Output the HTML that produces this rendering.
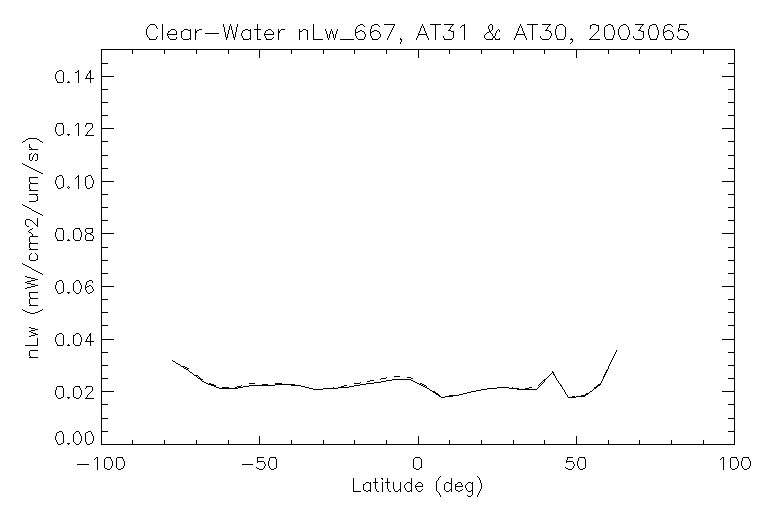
<!DOCTYPE html>
<html><head><meta charset="utf-8"><title>Clear-Water nLw_667, AT31 &amp; AT30, 2003065</title>
<style>
html,body{margin:0;padding:0;background:#fff;}
body{width:768px;height:512px;overflow:hidden;font-family:"Liberation Sans",sans-serif;}
svg{display:block;}
</style></head><body>
<svg width="768" height="512" viewBox="0 0 768 512" shape-rendering="crispEdges">
<title>Clear-Water nLw_667, AT31 &amp; AT30, 2003065</title>
<desc>Line plot. X axis: Latitude (deg), -100 to 100. Y axis: nLw (mW/cm^2/um/sr), 0.00 to 0.14. Two nearly identical curves (solid and dashed) from -77.5 to 62.5 degrees.</desc>
<rect width="768" height="512" fill="#fff"/>
<path fill="none" stroke="#000" stroke-width="1" stroke-linecap="butt" d="M150 24.5h5M162 24.5h1M223 24.5h1M230 24.5h1M237 24.5h1M257 24.5h1M313 24.5h1M360 24.5h3M374 24.5h4M384 24.5h11M422 24.5h1M430 24.5h11M444 24.5h10M464 24.5h1M490 24.5h2M520 24.5h1M527 24.5h11M542 24.5h9M559 24.5h4M592 24.5h4M608 24.5h3M623 24.5h3M635 24.5h9M652 24.5h4M667 24.5h4M679 24.5h8M149 25.5h1M155 25.5h1M162 25.5h1M223 25.5h1M230 25.5h1M237 25.5h1M257 25.5h1M313 25.5h1M358 25.5h2M363 25.5h1M372 25.5h2M378 25.5h1M394 25.5h1M422 25.5h1M435 25.5h1M452 25.5h1M462 25.5h3M489 25.5h1M492 25.5h1M520 25.5h1M532 25.5h1M549 25.5h1M557 25.5h2M563 25.5h1M590 25.5h2M596 25.5h3M606 25.5h2M611 25.5h2M621 25.5h2M626 25.5h1M642 25.5h1M650 25.5h2M656 25.5h1M665 25.5h2M671 25.5h1M679 25.5h1M148 26.5h1M156 26.5h1M162 26.5h1M223 26.5h1M229 26.5h1M231 26.5h1M237 26.5h1M257 26.5h1M313 26.5h1M357 26.5h1M364 26.5h1M371 26.5h1M379 26.5h1M393 26.5h1M421 26.5h1M423 26.5h1M435 26.5h1M451 26.5h1M461 26.5h1M464 26.5h1M488 26.5h1M492 26.5h1M519 26.5h1M521 26.5h1M532 26.5h1M548 26.5h1M556 26.5h1M564 26.5h1M590 26.5h1M598 26.5h1M605 26.5h1M612 26.5h1M620 26.5h1M627 26.5h1M641 26.5h1M649 26.5h1M656 26.5h1M664 26.5h1M672 26.5h1M679 26.5h1M147 27.5h1M156 27.5h1M162 27.5h1M224 27.5h1M229 27.5h1M231 27.5h1M236 27.5h1M257 27.5h1M313 27.5h1M356 27.5h1M371 27.5h1M393 27.5h1M421 27.5h1M423 27.5h1M435 27.5h1M450 27.5h1M460 27.5h1M464 27.5h1M488 27.5h1M492 27.5h1M519 27.5h1M521 27.5h1M532 27.5h1M547 27.5h1M556 27.5h1M565 27.5h1M590 27.5h1M598 27.5h1M604 27.5h1M613 27.5h1M619 27.5h1M628 27.5h1M640 27.5h1M649 27.5h1M657 27.5h1M664 27.5h1M679 27.5h1M147 28.5h1M157 28.5h1M162 28.5h1M224 28.5h1M229 28.5h1M231 28.5h1M236 28.5h1M257 28.5h1M313 28.5h1M356 28.5h1M371 28.5h1M392 28.5h1M420 28.5h1M424 28.5h1M435 28.5h1M450 28.5h1M464 28.5h1M488 28.5h1M492 28.5h1M518 28.5h1M522 28.5h1M532 28.5h1M547 28.5h1M556 28.5h1M565 28.5h1M590 28.5h1M598 28.5h1M604 28.5h1M613 28.5h1M619 28.5h1M628 28.5h1M640 28.5h1M649 28.5h1M657 28.5h1M664 28.5h1M678 28.5h1M146 29.5h1M162 29.5h1M171 29.5h4M184 29.5h4M190 29.5h1M195 29.5h1M199 29.5h3M224 29.5h1M229 29.5h1M231 29.5h1M236 29.5h1M245 29.5h3M250 29.5h1M254 29.5h7M268 29.5h3M278 29.5h1M281 29.5h4M299 29.5h1M303 29.5h3M313 29.5h1M325 29.5h1M331 29.5h1M337 29.5h1M355 29.5h1M370 29.5h1M392 29.5h1M420 29.5h1M424 29.5h1M435 29.5h1M449 29.5h1M464 29.5h1M489 29.5h1M492 29.5h1M498 29.5h1M518 29.5h1M522 29.5h1M532 29.5h1M546 29.5h1M555 29.5h1M565 29.5h1M598 29.5h1M604 29.5h1M613 29.5h1M618 29.5h1M628 29.5h1M639 29.5h1M648 29.5h1M657 29.5h1M663 29.5h1M678 29.5h1M680 29.5h4M146 30.5h1M162 30.5h1M170 30.5h1M175 30.5h1M183 30.5h1M188 30.5h3M195 30.5h1M197 30.5h2M224 30.5h1M228 30.5h1M232 30.5h1M236 30.5h1M243 30.5h2M248 30.5h3M257 30.5h1M266 30.5h2M271 30.5h1M278 30.5h1M280 30.5h1M299 30.5h1M302 30.5h1M306 30.5h2M313 30.5h1M325 30.5h1M331 30.5h1M337 30.5h1M355 30.5h1M360 30.5h2M370 30.5h1M374 30.5h3M391 30.5h1M420 30.5h1M424 30.5h1M435 30.5h1M448 30.5h3M464 30.5h1M489 30.5h1M491 30.5h1M497 30.5h1M499 30.5h1M518 30.5h1M522 30.5h1M532 30.5h1M545 30.5h4M555 30.5h1M565 30.5h1M598 30.5h1M604 30.5h1M614 30.5h1M618 30.5h1M629 30.5h1M638 30.5h3M648 30.5h1M658 30.5h1M663 30.5h1M667 30.5h3M678 30.5h2M684 30.5h2M146 31.5h1M162 31.5h1M168 31.5h2M176 31.5h1M181 31.5h2M190 31.5h1M195 31.5h2M224 31.5h1M228 31.5h1M232 31.5h1M236 31.5h1M242 31.5h1M250 31.5h1M257 31.5h1M265 31.5h1M272 31.5h1M278 31.5h2M299 31.5h3M307 31.5h1M313 31.5h1M326 31.5h1M330 31.5h1M332 31.5h1M336 31.5h1M355 31.5h1M358 31.5h2M362 31.5h2M370 31.5h1M372 31.5h2M377 31.5h2M391 31.5h1M419 31.5h1M425 31.5h1M435 31.5h1M451 31.5h3M464 31.5h1M489 31.5h2M496 31.5h1M499 31.5h1M517 31.5h1M523 31.5h1M532 31.5h1M549 31.5h2M555 31.5h1M565 31.5h1M597 31.5h1M604 31.5h1M614 31.5h1M618 31.5h1M629 31.5h1M641 31.5h3M648 31.5h1M658 31.5h1M663 31.5h1M665 31.5h2M670 31.5h2M678 31.5h1M686 31.5h2M146 32.5h1M162 32.5h1M168 32.5h1M176 32.5h1M181 32.5h1M190 32.5h1M195 32.5h2M225 32.5h1M228 32.5h1M232 32.5h1M235 32.5h1M242 32.5h1M250 32.5h1M257 32.5h1M265 32.5h1M273 32.5h1M278 32.5h2M299 32.5h1M307 32.5h1M313 32.5h1M326 32.5h1M330 32.5h1M332 32.5h1M336 32.5h1M355 32.5h3M364 32.5h1M370 32.5h2M379 32.5h1M390 32.5h1M419 32.5h1M425 32.5h1M435 32.5h1M453 32.5h1M464 32.5h1M487 32.5h2M490 32.5h1M496 32.5h1M517 32.5h1M523 32.5h1M532 32.5h1M550 32.5h1M555 32.5h1M565 32.5h1M596 32.5h1M604 32.5h1M614 32.5h1M618 32.5h1M629 32.5h1M643 32.5h1M648 32.5h1M658 32.5h1M663 32.5h2M672 32.5h1M687 32.5h1M146 33.5h1M162 33.5h1M167 33.5h1M176 33.5h1M181 33.5h1M190 33.5h1M195 33.5h1M205 33.5h14M225 33.5h1M228 33.5h1M232 33.5h1M235 33.5h1M241 33.5h1M250 33.5h1M257 33.5h1M264 33.5h1M273 33.5h1M278 33.5h1M299 33.5h1M307 33.5h1M313 33.5h1M326 33.5h1M330 33.5h1M332 33.5h1M336 33.5h1M355 33.5h1M364 33.5h1M370 33.5h1M379 33.5h1M390 33.5h1M418 33.5h1M426 33.5h1M435 33.5h1M453 33.5h1M464 33.5h1M486 33.5h1M491 33.5h1M495 33.5h1M516 33.5h1M524 33.5h1M532 33.5h1M551 33.5h1M555 33.5h1M565 33.5h1M595 33.5h1M604 33.5h1M614 33.5h1M618 33.5h1M629 33.5h1M643 33.5h1M648 33.5h1M658 33.5h1M663 33.5h1M672 33.5h1M688 33.5h1M146 34.5h1M162 34.5h1M167 34.5h10M181 34.5h1M190 34.5h1M195 34.5h1M225 34.5h1M227 34.5h1M233 34.5h1M235 34.5h1M241 34.5h1M250 34.5h1M257 34.5h1M264 34.5h10M278 34.5h1M299 34.5h1M307 34.5h1M313 34.5h1M327 34.5h1M329 34.5h1M333 34.5h1M335 34.5h1M355 34.5h1M365 34.5h1M370 34.5h1M380 34.5h1M389 34.5h1M418 34.5h9M435 34.5h1M453 34.5h1M464 34.5h1M485 34.5h1M492 34.5h1M495 34.5h1M516 34.5h9M532 34.5h1M551 34.5h1M555 34.5h1M565 34.5h1M594 34.5h1M604 34.5h1M614 34.5h1M618 34.5h1M629 34.5h1M643 34.5h1M648 34.5h1M658 34.5h1M663 34.5h1M673 34.5h1M688 34.5h1M147 35.5h1M162 35.5h1M167 35.5h1M181 35.5h1M190 35.5h1M195 35.5h1M225 35.5h1M227 35.5h1M233 35.5h1M235 35.5h1M241 35.5h1M250 35.5h1M257 35.5h1M264 35.5h1M278 35.5h1M299 35.5h1M307 35.5h1M313 35.5h1M327 35.5h1M329 35.5h1M333 35.5h1M335 35.5h1M355 35.5h1M365 35.5h1M370 35.5h1M380 35.5h1M389 35.5h1M418 35.5h1M426 35.5h1M435 35.5h1M453 35.5h1M464 35.5h1M484 35.5h1M492 35.5h1M495 35.5h1M516 35.5h1M524 35.5h1M532 35.5h1M551 35.5h1M556 35.5h1M565 35.5h1M593 35.5h1M604 35.5h1M613 35.5h1M619 35.5h1M628 35.5h1M643 35.5h1M649 35.5h1M657 35.5h1M663 35.5h1M673 35.5h1M688 35.5h1M147 36.5h1M157 36.5h1M162 36.5h1M168 36.5h1M181 36.5h1M190 36.5h1M195 36.5h1M225 36.5h1M227 36.5h1M233 36.5h1M235 36.5h1M242 36.5h1M250 36.5h1M257 36.5h1M265 36.5h1M278 36.5h1M299 36.5h1M307 36.5h1M313 36.5h1M327 36.5h1M329 36.5h1M333 36.5h1M335 36.5h1M356 36.5h1M365 36.5h1M371 36.5h1M380 36.5h1M388 36.5h1M417 36.5h1M427 36.5h1M435 36.5h1M443 36.5h1M453 36.5h1M464 36.5h1M484 36.5h1M493 36.5h2M515 36.5h1M525 36.5h1M532 36.5h1M540 36.5h1M550 36.5h1M556 36.5h1M565 36.5h1M592 36.5h1M604 36.5h1M613 36.5h1M619 36.5h1M628 36.5h1M633 36.5h1M643 36.5h1M649 36.5h1M657 36.5h1M664 36.5h1M673 36.5h1M677 36.5h1M687 36.5h1M148 37.5h1M156 37.5h1M162 37.5h1M168 37.5h1M176 37.5h1M181 37.5h1M190 37.5h1M195 37.5h1M226 37.5h2M233 37.5h2M242 37.5h1M250 37.5h1M257 37.5h1M265 37.5h1M273 37.5h1M278 37.5h1M299 37.5h1M307 37.5h1M313 37.5h1M327 37.5h1M329 37.5h1M333 37.5h1M335 37.5h1M356 37.5h1M364 37.5h1M371 37.5h1M379 37.5h1M388 37.5h1M417 37.5h1M427 37.5h1M435 37.5h1M443 37.5h1M453 37.5h1M464 37.5h1M484 37.5h1M493 37.5h2M515 37.5h1M525 37.5h1M532 37.5h1M540 37.5h1M550 37.5h1M556 37.5h1M564 37.5h1M591 37.5h1M605 37.5h1M613 37.5h1M620 37.5h1M627 37.5h1M633 37.5h1M643 37.5h1M649 37.5h1M657 37.5h1M664 37.5h1M672 37.5h1M677 37.5h1M687 37.5h1M149 38.5h1M156 38.5h1M162 38.5h1M169 38.5h1M176 38.5h1M182 38.5h1M189 38.5h2M195 38.5h1M226 38.5h1M234 38.5h1M243 38.5h1M249 38.5h2M257 38.5h1M266 38.5h1M272 38.5h1M278 38.5h1M299 38.5h1M307 38.5h1M313 38.5h1M328 38.5h1M334 38.5h1M357 38.5h1M364 38.5h1M372 38.5h1M378 38.5h1M387 38.5h1M400 38.5h1M416 38.5h1M428 38.5h1M435 38.5h1M444 38.5h1M452 38.5h1M464 38.5h1M485 38.5h1M492 38.5h1M495 38.5h1M499 38.5h1M514 38.5h1M526 38.5h1M532 38.5h1M541 38.5h1M549 38.5h1M557 38.5h1M564 38.5h1M571 38.5h1M590 38.5h1M605 38.5h1M612 38.5h1M620 38.5h1M627 38.5h1M634 38.5h1M642 38.5h1M650 38.5h1M656 38.5h1M665 38.5h1M672 38.5h1M678 38.5h1M686 38.5h1M149 39.5h7M162 39.5h1M170 39.5h6M183 39.5h6M190 39.5h1M195 39.5h1M226 39.5h1M234 39.5h1M243 39.5h6M250 39.5h1M257 39.5h4M266 39.5h6M278 39.5h1M299 39.5h1M307 39.5h1M313 39.5h10M328 39.5h1M334 39.5h1M340 39.5h14M358 39.5h6M372 39.5h6M387 39.5h1M400 39.5h2M416 39.5h1M428 39.5h1M435 39.5h1M444 39.5h8M464 39.5h1M486 39.5h7M495 39.5h5M514 39.5h1M526 39.5h1M532 39.5h1M542 39.5h7M557 39.5h7M570 39.5h3M589 39.5h11M606 39.5h7M621 39.5h6M635 39.5h7M650 39.5h7M665 39.5h7M679 39.5h7M401 40.5h1M572 40.5h1M401 41.5h1M572 41.5h1M400 42.5h1M571 42.5h1M400 43.5h1M570 43.5h1M101 49.5h634M101 50.5h1M132 50.5h1M164 50.5h1M196 50.5h1M228 50.5h1M259 50.5h1M291 50.5h1M323 50.5h1M354 50.5h1M386 50.5h1M418 50.5h1M449 50.5h1M481 50.5h1M513 50.5h1M544 50.5h1M576 50.5h1M608 50.5h1M639 50.5h1M671 50.5h1M703 50.5h1M734 50.5h1M101 51.5h1M132 51.5h1M164 51.5h1M196 51.5h1M228 51.5h1M259 51.5h1M291 51.5h1M323 51.5h1M354 51.5h1M386 51.5h1M418 51.5h1M449 51.5h1M481 51.5h1M513 51.5h1M544 51.5h1M576 51.5h1M608 51.5h1M639 51.5h1M671 51.5h1M703 51.5h1M734 51.5h1M101 52.5h1M132 52.5h1M164 52.5h1M196 52.5h1M228 52.5h1M259 52.5h1M291 52.5h1M323 52.5h1M354 52.5h1M386 52.5h1M418 52.5h1M449 52.5h1M481 52.5h1M513 52.5h1M544 52.5h1M576 52.5h1M608 52.5h1M639 52.5h1M671 52.5h1M703 52.5h1M734 52.5h1M101 53.5h1M132 53.5h1M164 53.5h1M196 53.5h1M228 53.5h1M259 53.5h1M291 53.5h1M323 53.5h1M354 53.5h1M386 53.5h1M418 53.5h1M449 53.5h1M481 53.5h1M513 53.5h1M544 53.5h1M576 53.5h1M608 53.5h1M639 53.5h1M671 53.5h1M703 53.5h1M734 53.5h1M101 54.5h1M259 54.5h1M418 54.5h1M576 54.5h1M734 54.5h1M101 55.5h1M259 55.5h1M418 55.5h1M576 55.5h1M734 55.5h1M101 56.5h1M259 56.5h1M418 56.5h1M576 56.5h1M734 56.5h1M101 57.5h1M259 57.5h1M418 57.5h1M576 57.5h1M734 57.5h1M101 58.5h1M734 58.5h1M101 59.5h1M734 59.5h1M101 60.5h1M734 60.5h1M101 61.5h1M734 61.5h1M101 62.5h1M734 62.5h1M101 63.5h7M728 63.5h7M101 64.5h1M734 64.5h1M101 65.5h1M734 65.5h1M101 66.5h1M734 66.5h1M101 67.5h1M734 67.5h1M101 68.5h1M734 68.5h1M101 69.5h1M734 69.5h1M59 70.5h3M78 70.5h1M90 70.5h1M101 70.5h1M734 70.5h1M57 71.5h2M62 71.5h1M77 71.5h2M89 71.5h2M101 71.5h1M734 71.5h1M56 72.5h1M63 72.5h1M75 72.5h2M78 72.5h1M89 72.5h2M101 72.5h1M734 72.5h1M56 73.5h1M63 73.5h1M78 73.5h1M88 73.5h1M90 73.5h1M101 73.5h1M734 73.5h1M55 74.5h1M63 74.5h1M78 74.5h1M87 74.5h1M90 74.5h1M101 74.5h1M734 74.5h1M55 75.5h1M63 75.5h1M78 75.5h1M87 75.5h1M90 75.5h1M101 75.5h1M734 75.5h1M55 76.5h1M63 76.5h1M78 76.5h1M86 76.5h1M90 76.5h1M101 76.5h13M722 76.5h13M55 77.5h1M63 77.5h1M78 77.5h1M86 77.5h1M90 77.5h1M101 77.5h1M734 77.5h1M55 78.5h1M63 78.5h1M78 78.5h1M85 78.5h9M101 78.5h1M734 78.5h1M56 79.5h1M63 79.5h1M78 79.5h1M90 79.5h1M101 79.5h1M734 79.5h1M56 80.5h1M63 80.5h1M78 80.5h1M90 80.5h1M101 80.5h1M734 80.5h1M57 81.5h1M63 81.5h1M68 81.5h1M78 81.5h1M90 81.5h1M101 81.5h1M734 81.5h1M57 82.5h6M67 82.5h3M78 82.5h1M90 82.5h1M101 82.5h1M734 82.5h1M101 83.5h1M734 83.5h1M101 84.5h1M734 84.5h1M101 85.5h1M734 85.5h1M101 86.5h1M734 86.5h1M101 87.5h1M734 87.5h1M101 88.5h1M734 88.5h1M101 89.5h7M728 89.5h7M101 90.5h1M734 90.5h1M101 91.5h1M734 91.5h1M101 92.5h1M734 92.5h1M101 93.5h1M734 93.5h1M101 94.5h1M734 94.5h1M101 95.5h1M734 95.5h1M101 96.5h1M734 96.5h1M101 97.5h1M734 97.5h1M101 98.5h1M734 98.5h1M101 99.5h1M734 99.5h1M101 100.5h1M734 100.5h1M101 101.5h1M734 101.5h1M101 102.5h7M728 102.5h7M101 103.5h1M734 103.5h1M101 104.5h1M734 104.5h1M101 105.5h1M734 105.5h1M101 106.5h1M734 106.5h1M101 107.5h1M734 107.5h1M101 108.5h1M734 108.5h1M101 109.5h1M734 109.5h1M101 110.5h1M734 110.5h1M101 111.5h1M734 111.5h1M101 112.5h1M734 112.5h1M101 113.5h1M734 113.5h1M101 114.5h1M734 114.5h1M101 115.5h7M728 115.5h7M101 116.5h1M734 116.5h1M101 117.5h1M734 117.5h1M101 118.5h1M734 118.5h1M101 119.5h1M734 119.5h1M101 120.5h1M734 120.5h1M101 121.5h1M734 121.5h1M101 122.5h1M734 122.5h1M57 123.5h6M77 123.5h2M86 123.5h6M101 123.5h1M734 123.5h1M56 124.5h1M62 124.5h1M76 124.5h1M78 124.5h1M86 124.5h1M92 124.5h1M101 124.5h1M734 124.5h1M56 125.5h1M63 125.5h1M75 125.5h1M78 125.5h1M85 125.5h1M92 125.5h1M101 125.5h1M734 125.5h1M56 126.5h1M63 126.5h1M78 126.5h1M85 126.5h1M92 126.5h1M101 126.5h1M734 126.5h1M55 127.5h1M63 127.5h1M78 127.5h1M92 127.5h1M101 127.5h1M734 127.5h1M55 128.5h1M63 128.5h1M78 128.5h1M91 128.5h1M101 128.5h13M722 128.5h13M55 129.5h1M63 129.5h1M78 129.5h1M90 129.5h1M101 129.5h1M734 129.5h1M55 130.5h1M63 130.5h1M78 130.5h1M89 130.5h1M101 130.5h1M734 130.5h1M55 131.5h1M63 131.5h1M78 131.5h1M88 131.5h1M101 131.5h1M734 131.5h1M56 132.5h1M63 132.5h1M78 132.5h1M87 132.5h1M101 132.5h1M734 132.5h1M56 133.5h1M63 133.5h1M78 133.5h1M87 133.5h1M101 133.5h1M734 133.5h1M57 134.5h1M61 134.5h2M67 134.5h3M78 134.5h1M86 134.5h1M101 134.5h1M734 134.5h1M58 135.5h3M68 135.5h1M78 135.5h1M85 135.5h9M101 135.5h1M734 135.5h1M101 136.5h1M734 136.5h1M101 137.5h1M734 137.5h1M28 138.5h9M101 138.5h1M734 138.5h1M26 139.5h2M37 139.5h2M101 139.5h1M734 139.5h1M25 140.5h1M39 140.5h1M101 140.5h1M734 140.5h1M23 141.5h2M40 141.5h2M101 141.5h7M728 141.5h7M22 142.5h1M42 142.5h1M101 142.5h1M734 142.5h1M101 143.5h1M734 143.5h1M29 144.5h1M101 144.5h1M734 144.5h1M29 145.5h1M101 145.5h1M734 145.5h1M29 146.5h1M101 146.5h1M734 146.5h1M29 147.5h2M101 147.5h1M734 147.5h1M31 148.5h1M101 148.5h1M734 148.5h1M29 149.5h9M101 149.5h1M734 149.5h1M101 150.5h1M734 150.5h1M101 151.5h1M734 151.5h1M101 152.5h1M734 152.5h1M31 153.5h1M35 153.5h1M101 153.5h1M734 153.5h1M29 154.5h2M34 154.5h1M36 154.5h2M101 154.5h1M734 154.5h1M29 155.5h1M33 155.5h1M37 155.5h1M101 155.5h7M728 155.5h7M29 156.5h1M33 156.5h1M37 156.5h1M101 156.5h1M734 156.5h1M29 157.5h1M32 157.5h1M37 157.5h1M101 157.5h1M734 157.5h1M29 158.5h1M32 158.5h1M37 158.5h1M101 158.5h1M734 158.5h1M29 159.5h1M32 159.5h1M37 159.5h1M101 159.5h1M734 159.5h1M30 160.5h2M35 160.5h2M101 160.5h1M734 160.5h1M101 161.5h1M734 161.5h1M101 162.5h1M734 162.5h1M22 163.5h1M101 163.5h1M734 163.5h1M23 164.5h2M101 164.5h1M734 164.5h1M25 165.5h2M101 165.5h1M734 165.5h1M27 166.5h2M101 166.5h1M734 166.5h1M29 167.5h2M101 167.5h1M734 167.5h1M31 168.5h2M101 168.5h7M728 168.5h7M33 169.5h2M101 169.5h1M734 169.5h1M35 170.5h2M101 170.5h1M734 170.5h1M37 171.5h2M101 171.5h1M734 171.5h1M39 172.5h2M101 172.5h1M734 172.5h1M41 173.5h2M101 173.5h1M734 173.5h1M101 174.5h1M734 174.5h1M59 175.5h3M78 175.5h1M88 175.5h3M101 175.5h1M734 175.5h1M57 176.5h2M62 176.5h1M77 176.5h2M86 176.5h2M91 176.5h1M101 176.5h1M734 176.5h1M29 177.5h9M56 177.5h1M62 177.5h1M76 177.5h1M78 177.5h1M85 177.5h1M91 177.5h1M101 177.5h1M734 177.5h1M29 178.5h1M56 178.5h1M63 178.5h1M75 178.5h1M78 178.5h1M85 178.5h1M92 178.5h1M101 178.5h1M734 178.5h1M29 179.5h1M56 179.5h1M63 179.5h1M78 179.5h1M85 179.5h1M92 179.5h1M101 179.5h1M734 179.5h1M29 180.5h1M55 180.5h1M63 180.5h1M78 180.5h1M85 180.5h1M93 180.5h1M101 180.5h1M734 180.5h1M29 181.5h1M55 181.5h1M63 181.5h1M78 181.5h1M85 181.5h1M93 181.5h1M101 181.5h13M722 181.5h13M30 182.5h1M55 182.5h1M63 182.5h1M78 182.5h1M85 182.5h1M93 182.5h1M101 182.5h1M734 182.5h1M30 183.5h8M55 183.5h1M63 183.5h1M78 183.5h1M85 183.5h1M93 183.5h1M101 183.5h1M734 183.5h1M29 184.5h1M56 184.5h1M63 184.5h1M78 184.5h1M85 184.5h1M92 184.5h1M101 184.5h1M734 184.5h1M29 185.5h1M56 185.5h1M63 185.5h1M78 185.5h1M85 185.5h1M92 185.5h1M101 185.5h1M734 185.5h1M29 186.5h1M57 186.5h1M63 186.5h1M68 186.5h1M78 186.5h1M86 186.5h1M92 186.5h1M101 186.5h1M734 186.5h1M29 187.5h1M57 187.5h1M61 187.5h2M67 187.5h1M69 187.5h1M78 187.5h1M86 187.5h1M90 187.5h2M101 187.5h1M734 187.5h1M29 188.5h1M58 188.5h3M68 188.5h1M78 188.5h1M87 188.5h3M101 188.5h1M734 188.5h1M30 189.5h1M101 189.5h1M734 189.5h1M29 190.5h9M101 190.5h1M734 190.5h1M101 191.5h1M734 191.5h1M101 192.5h1M734 192.5h1M101 193.5h1M734 193.5h1M29 194.5h9M101 194.5h7M728 194.5h7M36 195.5h1M101 195.5h1M734 195.5h1M37 196.5h1M101 196.5h1M734 196.5h1M37 197.5h1M101 197.5h1M734 197.5h1M37 198.5h1M101 198.5h1M734 198.5h1M37 199.5h1M101 199.5h1M734 199.5h1M36 200.5h2M101 200.5h1M734 200.5h1M29 201.5h7M101 201.5h1M734 201.5h1M101 202.5h1M734 202.5h1M101 203.5h1M734 203.5h1M22 204.5h1M101 204.5h1M734 204.5h1M23 205.5h2M101 205.5h1M734 205.5h1M25 206.5h2M101 206.5h1M734 206.5h1M27 207.5h2M101 207.5h7M728 207.5h7M29 208.5h2M101 208.5h1M734 208.5h1M31 209.5h1M101 209.5h1M734 209.5h1M32 210.5h2M101 210.5h1M734 210.5h1M34 211.5h2M101 211.5h1M734 211.5h1M36 212.5h2M101 212.5h1M734 212.5h1M38 213.5h2M101 213.5h1M734 213.5h1M40 214.5h2M101 214.5h1M734 214.5h1M42 215.5h1M101 215.5h1M734 215.5h1M101 216.5h1M734 216.5h1M101 217.5h1M734 217.5h1M37 218.5h1M101 218.5h1M734 218.5h1M26 219.5h4M37 219.5h1M101 219.5h1M734 219.5h1M25 220.5h1M30 220.5h2M37 220.5h1M101 220.5h7M728 220.5h7M25 221.5h1M32 221.5h1M37 221.5h1M101 221.5h1M734 221.5h1M25 222.5h1M33 222.5h1M37 222.5h1M101 222.5h1M734 222.5h1M25 223.5h1M34 223.5h1M37 223.5h1M101 223.5h1M734 223.5h1M25 224.5h1M35 224.5h1M37 224.5h1M101 224.5h1M734 224.5h1M26 225.5h1M36 225.5h2M101 225.5h1M734 225.5h1M27 226.5h2M37 226.5h1M101 226.5h1M734 226.5h1M101 227.5h1M734 227.5h1M32 228.5h1M57 228.5h6M75 228.5h5M86 228.5h7M101 228.5h1M734 228.5h1M30 229.5h2M56 229.5h1M62 229.5h1M74 229.5h1M79 229.5h1M85 229.5h1M92 229.5h1M101 229.5h1M734 229.5h1M29 230.5h1M56 230.5h1M63 230.5h1M73 230.5h1M80 230.5h1M85 230.5h1M92 230.5h1M101 230.5h1M734 230.5h1M28 231.5h1M56 231.5h1M63 231.5h1M73 231.5h1M80 231.5h1M85 231.5h1M92 231.5h1M101 231.5h1M734 231.5h1M29 232.5h2M55 232.5h1M63 232.5h1M73 232.5h1M81 232.5h1M86 232.5h1M91 232.5h2M101 232.5h1M734 232.5h1M31 233.5h1M55 233.5h1M63 233.5h1M73 233.5h1M81 233.5h1M87 233.5h4M101 233.5h13M722 233.5h13M32 234.5h1M55 234.5h1M63 234.5h1M73 234.5h1M81 234.5h1M86 234.5h1M90 234.5h2M101 234.5h1M734 234.5h1M32 235.5h1M55 235.5h1M63 235.5h1M73 235.5h1M81 235.5h1M85 235.5h1M92 235.5h1M101 235.5h1M734 235.5h1M30 236.5h8M55 236.5h1M63 236.5h1M73 236.5h1M81 236.5h1M85 236.5h1M93 236.5h1M101 236.5h1M734 236.5h1M29 237.5h1M56 237.5h1M63 237.5h1M73 237.5h1M80 237.5h1M85 237.5h1M93 237.5h1M101 237.5h1M734 237.5h1M29 238.5h1M56 238.5h1M63 238.5h1M73 238.5h1M80 238.5h1M85 238.5h1M93 238.5h1M101 238.5h1M734 238.5h1M29 239.5h1M57 239.5h1M63 239.5h1M68 239.5h1M74 239.5h1M80 239.5h1M85 239.5h1M92 239.5h1M101 239.5h1M734 239.5h1M29 240.5h1M57 240.5h6M67 240.5h3M75 240.5h5M86 240.5h7M101 240.5h1M734 240.5h1M29 241.5h1M101 241.5h1M734 241.5h1M30 242.5h1M101 242.5h1M734 242.5h1M29 243.5h9M101 243.5h1M734 243.5h1M29 244.5h1M101 244.5h1M734 244.5h1M29 245.5h1M101 245.5h1M734 245.5h1M29 246.5h1M101 246.5h1M734 246.5h1M29 247.5h1M101 247.5h7M728 247.5h7M30 248.5h1M101 248.5h1M734 248.5h1M29 249.5h9M101 249.5h1M734 249.5h1M101 250.5h1M734 250.5h1M101 251.5h1M734 251.5h1M101 252.5h1M734 252.5h1M31 253.5h1M35 253.5h1M101 253.5h1M734 253.5h1M30 254.5h1M36 254.5h1M101 254.5h1M734 254.5h1M29 255.5h1M37 255.5h1M101 255.5h1M734 255.5h1M29 256.5h1M37 256.5h1M101 256.5h1M734 256.5h1M29 257.5h1M37 257.5h1M101 257.5h1M734 257.5h1M29 258.5h1M37 258.5h1M101 258.5h1M734 258.5h1M29 259.5h1M36 259.5h2M101 259.5h1M734 259.5h1M30 260.5h6M101 260.5h7M728 260.5h7M101 261.5h1M734 261.5h1M101 262.5h1M734 262.5h1M22 263.5h1M101 263.5h1M734 263.5h1M23 264.5h2M101 264.5h1M734 264.5h1M25 265.5h2M101 265.5h1M734 265.5h1M27 266.5h2M101 266.5h1M734 266.5h1M29 267.5h2M101 267.5h1M734 267.5h1M31 268.5h1M101 268.5h1M734 268.5h1M32 269.5h2M101 269.5h1M734 269.5h1M34 270.5h2M101 270.5h1M734 270.5h1M36 271.5h2M101 271.5h1M734 271.5h1M38 272.5h2M101 272.5h1M734 272.5h1M40 273.5h2M101 273.5h7M728 273.5h7M42 274.5h1M101 274.5h1M734 274.5h1M101 275.5h1M734 275.5h1M25 276.5h2M101 276.5h1M734 276.5h1M27 277.5h4M101 277.5h1M734 277.5h1M31 278.5h4M101 278.5h1M734 278.5h1M35 279.5h3M101 279.5h1M734 279.5h1M31 280.5h4M59 280.5h3M76 280.5h3M89 280.5h3M101 280.5h1M734 280.5h1M27 281.5h4M57 281.5h2M62 281.5h1M75 281.5h1M79 281.5h1M87 281.5h2M92 281.5h1M101 281.5h1M734 281.5h1M25 282.5h2M56 282.5h1M62 282.5h1M74 282.5h1M79 282.5h1M86 282.5h1M92 282.5h1M101 282.5h1M734 282.5h1M27 283.5h4M56 283.5h1M63 283.5h1M73 283.5h1M80 283.5h1M86 283.5h1M101 283.5h1M734 283.5h1M31 284.5h4M56 284.5h1M63 284.5h1M73 284.5h1M80 284.5h1M86 284.5h1M101 284.5h1M734 284.5h1M35 285.5h3M55 285.5h1M63 285.5h1M73 285.5h1M81 285.5h1M85 285.5h1M89 285.5h2M101 285.5h1M734 285.5h1M31 286.5h4M55 286.5h1M63 286.5h1M73 286.5h1M81 286.5h1M85 286.5h1M87 286.5h2M91 286.5h1M101 286.5h13M722 286.5h13M27 287.5h4M55 287.5h1M63 287.5h1M73 287.5h1M81 287.5h1M85 287.5h2M92 287.5h1M101 287.5h1M734 287.5h1M25 288.5h2M55 288.5h1M63 288.5h1M73 288.5h1M81 288.5h1M85 288.5h1M92 288.5h1M101 288.5h1M734 288.5h1M56 289.5h1M63 289.5h1M73 289.5h1M80 289.5h1M85 289.5h1M93 289.5h1M101 289.5h1M734 289.5h1M56 290.5h1M63 290.5h1M73 290.5h1M80 290.5h1M86 290.5h1M93 290.5h1M101 290.5h1M734 290.5h1M57 291.5h1M63 291.5h1M74 291.5h1M80 291.5h1M86 291.5h1M92 291.5h1M101 291.5h1M734 291.5h1M29 292.5h9M57 292.5h1M61 292.5h2M67 292.5h3M75 292.5h1M79 292.5h1M87 292.5h1M90 292.5h2M101 292.5h1M734 292.5h1M29 293.5h1M58 293.5h3M68 293.5h1M76 293.5h3M88 293.5h2M101 293.5h1M734 293.5h1M29 294.5h1M101 294.5h1M734 294.5h1M29 295.5h1M101 295.5h1M734 295.5h1M29 296.5h1M101 296.5h1M734 296.5h1M30 297.5h1M101 297.5h1M734 297.5h1M30 298.5h8M101 298.5h1M734 298.5h1M29 299.5h1M101 299.5h7M728 299.5h7M29 300.5h1M101 300.5h1M734 300.5h1M29 301.5h1M101 301.5h1M734 301.5h1M29 302.5h1M101 302.5h1M734 302.5h1M29 303.5h1M101 303.5h1M734 303.5h1M30 304.5h1M101 304.5h1M734 304.5h1M29 305.5h9M101 305.5h1M734 305.5h1M101 306.5h1M734 306.5h1M101 307.5h1M734 307.5h1M101 308.5h1M734 308.5h1M22 309.5h1M42 309.5h1M101 309.5h1M734 309.5h1M23 310.5h2M40 310.5h2M101 310.5h1M734 310.5h1M25 311.5h2M38 311.5h2M101 311.5h1M734 311.5h1M27 312.5h3M35 312.5h3M101 312.5h7M728 312.5h7M30 313.5h5M101 313.5h1M734 313.5h1M101 314.5h1M734 314.5h1M101 315.5h1M734 315.5h1M101 316.5h1M734 316.5h1M101 317.5h1M734 317.5h1M101 318.5h1M734 318.5h1M101 319.5h1M734 319.5h1M101 320.5h1M734 320.5h1M101 321.5h1M734 321.5h1M101 322.5h1M734 322.5h1M101 323.5h1M734 323.5h1M101 324.5h1M734 324.5h1M101 325.5h7M728 325.5h7M101 326.5h1M734 326.5h1M29 327.5h2M101 327.5h1M734 327.5h1M31 328.5h4M101 328.5h1M734 328.5h1M35 329.5h3M101 329.5h1M734 329.5h1M31 330.5h4M101 330.5h1M734 330.5h1M29 331.5h2M101 331.5h1M734 331.5h1M31 332.5h2M101 332.5h1M734 332.5h1M33 333.5h3M59 333.5h3M76 333.5h3M90 333.5h1M101 333.5h1M734 333.5h1M35 334.5h3M57 334.5h2M62 334.5h1M75 334.5h1M79 334.5h1M89 334.5h2M101 334.5h1M734 334.5h1M31 335.5h4M56 335.5h1M63 335.5h1M73 335.5h2M80 335.5h1M89 335.5h2M101 335.5h1M734 335.5h1M29 336.5h2M56 336.5h1M63 336.5h1M73 336.5h1M80 336.5h1M88 336.5h1M90 336.5h1M101 336.5h1M734 336.5h1M55 337.5h1M63 337.5h1M73 337.5h1M81 337.5h1M87 337.5h1M90 337.5h1M101 337.5h1M734 337.5h1M37 338.5h1M55 338.5h1M63 338.5h1M73 338.5h1M81 338.5h1M87 338.5h1M90 338.5h1M101 338.5h1M734 338.5h1M37 339.5h1M55 339.5h1M63 339.5h1M73 339.5h1M81 339.5h1M86 339.5h1M90 339.5h1M101 339.5h13M722 339.5h13M37 340.5h1M55 340.5h1M63 340.5h1M73 340.5h1M81 340.5h1M86 340.5h1M90 340.5h1M101 340.5h1M734 340.5h1M37 341.5h1M55 341.5h1M63 341.5h1M73 341.5h1M81 341.5h1M85 341.5h9M101 341.5h1M734 341.5h1M37 342.5h1M56 342.5h1M63 342.5h1M73 342.5h1M80 342.5h1M90 342.5h1M101 342.5h1M734 342.5h1M37 343.5h1M56 343.5h1M63 343.5h1M73 343.5h1M80 343.5h1M90 343.5h1M101 343.5h1M734 343.5h1M37 344.5h1M57 344.5h1M63 344.5h1M68 344.5h1M74 344.5h1M80 344.5h1M90 344.5h1M101 344.5h1M734 344.5h1M25 345.5h13M57 345.5h6M67 345.5h3M75 345.5h5M90 345.5h1M101 345.5h1M734 345.5h1M101 346.5h1M734 346.5h1M101 347.5h1M734 347.5h1M101 348.5h1M734 348.5h1M101 349.5h1M734 349.5h1M30 350.5h8M101 350.5h1M616 350.5h1M734 350.5h1M29 351.5h1M101 351.5h1M616 351.5h1M734 351.5h1M29 352.5h1M101 352.5h7M615 352.5h1M728 352.5h7M29 353.5h1M101 353.5h1M615 353.5h1M734 353.5h1M29 354.5h1M101 354.5h1M614 354.5h1M734 354.5h1M29 355.5h1M101 355.5h1M614 355.5h1M734 355.5h1M30 356.5h1M101 356.5h1M613 356.5h1M734 356.5h1M29 357.5h9M101 357.5h1M613 357.5h1M734 357.5h1M101 358.5h1M612 358.5h1M734 358.5h1M101 359.5h1M612 359.5h1M734 359.5h1M101 360.5h1M172 360.5h1M611 360.5h1M734 360.5h1M101 361.5h1M173 361.5h2M611 361.5h1M734 361.5h1M101 362.5h1M175 362.5h1M610 362.5h1M734 362.5h1M101 363.5h1M176 363.5h2M610 363.5h1M734 363.5h1M101 364.5h1M178 364.5h2M609 364.5h1M734 364.5h1M101 365.5h7M180 365.5h1M609 365.5h1M728 365.5h7M101 366.5h1M181 366.5h4M608 366.5h1M734 366.5h1M101 367.5h1M183 367.5h1M185 367.5h2M608 367.5h1M734 367.5h1M101 368.5h1M184 368.5h2M187 368.5h2M608 368.5h1M734 368.5h1M101 369.5h1M186 369.5h2M607 369.5h1M734 369.5h1M101 370.5h1M188 370.5h1M606 370.5h2M734 370.5h1M101 371.5h1M189 371.5h1M552 371.5h1M606 371.5h1M734 371.5h1M101 372.5h1M190 372.5h2M552 372.5h2M605 372.5h2M734 372.5h1M101 373.5h1M192 373.5h1M551 373.5h1M553 373.5h1M605 373.5h1M734 373.5h1M101 374.5h1M193 374.5h1M550 374.5h1M553 374.5h2M604 374.5h2M734 374.5h1M101 375.5h1M194 375.5h4M549 375.5h1M554 375.5h1M604 375.5h1M734 375.5h1M101 376.5h1M196 376.5h1M198 376.5h1M394 376.5h6M548 376.5h1M555 376.5h1M603 376.5h2M734 376.5h1M101 377.5h1M197 377.5h1M199 377.5h1M386 377.5h1M407 377.5h4M547 377.5h1M555 377.5h1M603 377.5h1M734 377.5h1M101 378.5h7M198 378.5h3M381 378.5h5M411 378.5h2M546 378.5h1M556 378.5h1M603 378.5h1M728 378.5h7M101 379.5h1M200 379.5h3M380 379.5h1M392 379.5h19M544 379.5h2M556 379.5h1M602 379.5h1M734 379.5h1M101 380.5h1M201 380.5h1M370 380.5h4M386 380.5h6M411 380.5h2M543 380.5h2M557 380.5h1M602 380.5h1M734 380.5h1M101 381.5h1M202 381.5h2M367 381.5h3M381 381.5h5M413 381.5h2M542 381.5h1M544 381.5h1M558 381.5h1M601 381.5h1M734 381.5h1M101 382.5h1M204 382.5h2M360 382.5h1M374 382.5h7M415 382.5h2M541 382.5h1M543 382.5h1M558 382.5h1M601 382.5h1M734 382.5h1M101 383.5h1M206 383.5h2M209 383.5h2M249 383.5h6M275 383.5h7M354 383.5h6M366 383.5h8M417 383.5h2M420 383.5h2M540 383.5h1M542 383.5h1M559 383.5h1M600 383.5h1M734 383.5h1M101 384.5h1M208 384.5h6M262 384.5h6M275 384.5h20M360 384.5h6M419 384.5h2M422 384.5h2M539 384.5h1M541 384.5h1M560 384.5h1M598 384.5h3M734 384.5h1M101 385.5h1M211 385.5h5M241 385.5h1M249 385.5h26M291 385.5h10M344 385.5h3M354 385.5h6M421 385.5h2M424 385.5h2M538 385.5h1M540 385.5h1M560 385.5h2M597 385.5h3M734 385.5h1M57 386.5h6M75 386.5h5M86 386.5h6M101 386.5h1M214 386.5h2M237 386.5h4M243 386.5h6M301 386.5h4M341 386.5h3M349 386.5h5M423 386.5h2M426 386.5h1M539 386.5h1M561 386.5h1M596 386.5h2M734 386.5h1M56 387.5h1M62 387.5h1M74 387.5h1M79 387.5h1M86 387.5h1M92 387.5h1M101 387.5h1M216 387.5h3M222 387.5h7M235 387.5h2M238 387.5h5M305 387.5h4M333 387.5h1M338 387.5h11M425 387.5h2M497 387.5h12M512 387.5h1M529 387.5h3M538 387.5h1M562 387.5h1M594 387.5h3M734 387.5h1M56 388.5h1M63 388.5h1M73 388.5h1M80 388.5h1M85 388.5h1M92 388.5h1M101 388.5h1M219 388.5h19M309 388.5h4M323 388.5h15M427 388.5h2M487 388.5h10M509 388.5h10M525 388.5h4M537 388.5h1M562 388.5h1M594 388.5h2M734 388.5h1M56 389.5h1M63 389.5h1M73 389.5h1M80 389.5h1M92 389.5h1M101 389.5h1M313 389.5h10M429 389.5h1M481 389.5h6M517 389.5h20M563 389.5h1M593 389.5h1M734 389.5h1M55 390.5h1M63 390.5h1M73 390.5h1M81 390.5h1M92 390.5h1M101 390.5h1M430 390.5h2M476 390.5h5M564 390.5h1M592 390.5h1M734 390.5h1M55 391.5h1M63 391.5h1M73 391.5h1M81 391.5h1M91 391.5h1M101 391.5h13M432 391.5h3M471 391.5h5M564 391.5h1M590 391.5h2M722 391.5h13M55 392.5h1M63 392.5h1M73 392.5h1M81 392.5h1M90 392.5h1M101 392.5h1M433 392.5h3M467 392.5h4M565 392.5h1M589 392.5h1M734 392.5h1M55 393.5h1M63 393.5h1M73 393.5h1M81 393.5h1M89 393.5h1M101 393.5h1M435 393.5h3M463 393.5h4M565 393.5h1M586 393.5h3M734 393.5h1M55 394.5h1M63 394.5h1M73 394.5h1M81 394.5h1M88 394.5h1M101 394.5h1M436 394.5h3M459 394.5h4M566 394.5h1M585 394.5h3M734 394.5h1M56 395.5h1M63 395.5h1M73 395.5h1M80 395.5h1M87 395.5h1M101 395.5h1M438 395.5h2M449 395.5h10M567 395.5h1M581 395.5h5M734 395.5h1M56 396.5h1M63 396.5h1M73 396.5h1M80 396.5h1M87 396.5h1M101 396.5h1M439 396.5h2M445 396.5h8M567 396.5h1M572 396.5h3M576 396.5h9M734 396.5h1M57 397.5h1M61 397.5h2M67 397.5h3M74 397.5h2M79 397.5h1M86 397.5h1M101 397.5h1M441 397.5h4M568 397.5h8M734 397.5h1M58 398.5h3M68 398.5h1M76 398.5h3M85 398.5h9M101 398.5h1M734 398.5h1M101 399.5h1M734 399.5h1M101 400.5h1M734 400.5h1M101 401.5h1M734 401.5h1M101 402.5h1M734 402.5h1M101 403.5h1M734 403.5h1M101 404.5h7M728 404.5h7M101 405.5h1M734 405.5h1M101 406.5h1M734 406.5h1M101 407.5h1M734 407.5h1M101 408.5h1M734 408.5h1M101 409.5h1M734 409.5h1M101 410.5h1M734 410.5h1M101 411.5h1M734 411.5h1M101 412.5h1M734 412.5h1M101 413.5h1M734 413.5h1M101 414.5h1M734 414.5h1M101 415.5h1M734 415.5h1M101 416.5h1M734 416.5h1M101 417.5h1M734 417.5h1M101 418.5h7M728 418.5h7M101 419.5h1M734 419.5h1M101 420.5h1M734 420.5h1M101 421.5h1M734 421.5h1M101 422.5h1M734 422.5h1M101 423.5h1M734 423.5h1M101 424.5h1M734 424.5h1M101 425.5h1M734 425.5h1M101 426.5h1M734 426.5h1M101 427.5h1M734 427.5h1M101 428.5h1M734 428.5h1M101 429.5h1M734 429.5h1M101 430.5h1M734 430.5h1M59 431.5h3M76 431.5h3M88 431.5h3M101 431.5h7M728 431.5h7M57 432.5h2M62 432.5h1M75 432.5h1M79 432.5h1M86 432.5h2M91 432.5h1M101 432.5h1M734 432.5h1M56 433.5h1M62 433.5h1M74 433.5h1M79 433.5h1M85 433.5h1M91 433.5h1M101 433.5h1M734 433.5h1M56 434.5h1M63 434.5h1M73 434.5h1M80 434.5h1M85 434.5h1M92 434.5h1M101 434.5h1M734 434.5h1M56 435.5h1M63 435.5h1M73 435.5h1M80 435.5h1M85 435.5h1M92 435.5h1M101 435.5h1M734 435.5h1M55 436.5h1M63 436.5h1M73 436.5h1M81 436.5h1M85 436.5h1M93 436.5h1M101 436.5h1M259 436.5h1M418 436.5h1M576 436.5h1M734 436.5h1M55 437.5h1M63 437.5h1M73 437.5h1M81 437.5h1M85 437.5h1M93 437.5h1M101 437.5h1M259 437.5h1M418 437.5h1M576 437.5h1M734 437.5h1M55 438.5h1M63 438.5h1M73 438.5h1M81 438.5h1M85 438.5h1M93 438.5h1M101 438.5h1M259 438.5h1M418 438.5h1M576 438.5h1M734 438.5h1M55 439.5h1M63 439.5h1M73 439.5h1M81 439.5h1M85 439.5h1M93 439.5h1M101 439.5h1M259 439.5h1M418 439.5h1M576 439.5h1M734 439.5h1M56 440.5h1M63 440.5h1M73 440.5h1M81 440.5h1M85 440.5h1M93 440.5h1M101 440.5h1M132 440.5h1M164 440.5h1M196 440.5h1M228 440.5h1M259 440.5h1M291 440.5h1M323 440.5h1M354 440.5h1M386 440.5h1M418 440.5h1M449 440.5h1M481 440.5h1M513 440.5h1M544 440.5h1M576 440.5h1M608 440.5h1M639 440.5h1M671 440.5h1M703 440.5h1M734 440.5h1M56 441.5h1M63 441.5h1M73 441.5h1M80 441.5h1M85 441.5h1M92 441.5h1M101 441.5h1M132 441.5h1M164 441.5h1M196 441.5h1M228 441.5h1M259 441.5h1M291 441.5h1M323 441.5h1M354 441.5h1M386 441.5h1M418 441.5h1M449 441.5h1M481 441.5h1M513 441.5h1M544 441.5h1M576 441.5h1M608 441.5h1M639 441.5h1M671 441.5h1M703 441.5h1M734 441.5h1M57 442.5h1M63 442.5h1M74 442.5h1M80 442.5h1M86 442.5h1M92 442.5h1M101 442.5h1M132 442.5h1M164 442.5h1M196 442.5h1M228 442.5h1M259 442.5h1M291 442.5h1M323 442.5h1M354 442.5h1M386 442.5h1M418 442.5h1M449 442.5h1M481 442.5h1M513 442.5h1M544 442.5h1M576 442.5h1M608 442.5h1M639 442.5h1M671 442.5h1M703 442.5h1M734 442.5h1M57 443.5h1M61 443.5h2M67 443.5h3M75 443.5h1M79 443.5h1M86 443.5h1M90 443.5h2M101 443.5h1M132 443.5h1M164 443.5h1M196 443.5h1M228 443.5h1M259 443.5h1M291 443.5h1M323 443.5h1M354 443.5h1M386 443.5h1M418 443.5h1M449 443.5h1M481 443.5h1M513 443.5h1M544 443.5h1M576 443.5h1M608 443.5h1M639 443.5h1M671 443.5h1M703 443.5h1M734 443.5h1M58 444.5h3M68 444.5h1M76 444.5h3M87 444.5h3M101 444.5h634M96 457.5h2M106 457.5h5M117 457.5h6M257 457.5h7M270 457.5h6M415 457.5h5M567 457.5h6M579 457.5h6M722 457.5h2M731 457.5h6M743 457.5h6M95 458.5h1M97 458.5h1M105 458.5h1M110 458.5h1M116 458.5h1M122 458.5h1M257 458.5h1M269 458.5h1M275 458.5h1M414 458.5h1M420 458.5h1M567 458.5h1M578 458.5h1M584 458.5h1M721 458.5h1M723 458.5h1M730 458.5h1M736 458.5h1M742 458.5h1M748 458.5h1M94 459.5h1M97 459.5h1M104 459.5h1M111 459.5h1M116 459.5h1M123 459.5h1M257 459.5h1M269 459.5h1M276 459.5h1M413 459.5h1M421 459.5h1M567 459.5h1M578 459.5h1M585 459.5h1M720 459.5h1M723 459.5h1M730 459.5h1M737 459.5h1M742 459.5h1M749 459.5h1M97 460.5h1M104 460.5h1M111 460.5h1M116 460.5h1M123 460.5h1M257 460.5h1M269 460.5h1M276 460.5h1M413 460.5h1M421 460.5h1M566 460.5h1M578 460.5h1M585 460.5h1M723 460.5h1M730 460.5h1M737 460.5h1M742 460.5h1M749 460.5h1M97 461.5h1M104 461.5h1M112 461.5h1M116 461.5h1M124 461.5h1M257 461.5h7M268 461.5h1M276 461.5h1M413 461.5h1M421 461.5h1M566 461.5h7M577 461.5h1M585 461.5h1M723 461.5h1M730 461.5h1M738 461.5h1M741 461.5h1M750 461.5h1M97 462.5h1M104 462.5h1M112 462.5h1M116 462.5h1M124 462.5h1M257 462.5h1M264 462.5h1M268 462.5h1M276 462.5h1M413 462.5h1M421 462.5h1M566 462.5h1M573 462.5h1M577 462.5h1M585 462.5h1M723 462.5h1M730 462.5h1M738 462.5h1M741 462.5h1M750 462.5h1M97 463.5h1M104 463.5h1M112 463.5h1M116 463.5h1M124 463.5h1M264 463.5h1M268 463.5h1M276 463.5h1M413 463.5h1M421 463.5h1M573 463.5h1M577 463.5h1M585 463.5h1M723 463.5h1M730 463.5h1M738 463.5h1M741 463.5h1M750 463.5h1M77 464.5h12M97 464.5h1M104 464.5h1M112 464.5h1M116 464.5h1M124 464.5h1M242 464.5h11M265 464.5h1M268 464.5h1M276 464.5h1M413 464.5h1M421 464.5h1M574 464.5h1M577 464.5h1M585 464.5h1M723 464.5h1M730 464.5h1M738 464.5h1M741 464.5h1M750 464.5h1M97 465.5h1M104 465.5h1M112 465.5h1M116 465.5h1M124 465.5h1M265 465.5h1M268 465.5h1M276 465.5h1M413 465.5h1M421 465.5h1M574 465.5h1M577 465.5h1M585 465.5h1M723 465.5h1M730 465.5h1M738 465.5h1M741 465.5h1M750 465.5h1M97 466.5h1M104 466.5h1M111 466.5h1M116 466.5h1M123 466.5h1M264 466.5h1M269 466.5h1M276 466.5h1M413 466.5h1M421 466.5h1M573 466.5h1M578 466.5h1M585 466.5h1M723 466.5h1M730 466.5h1M737 466.5h1M742 466.5h1M749 466.5h1M97 467.5h1M104 467.5h1M111 467.5h1M116 467.5h1M123 467.5h1M256 467.5h1M264 467.5h1M269 467.5h1M276 467.5h1M413 467.5h1M420 467.5h2M565 467.5h1M573 467.5h1M578 467.5h1M585 467.5h1M723 467.5h1M730 467.5h1M737 467.5h1M742 467.5h1M749 467.5h1M97 468.5h1M105 468.5h2M110 468.5h1M117 468.5h1M121 468.5h2M257 468.5h2M263 468.5h1M270 468.5h1M274 468.5h2M414 468.5h2M419 468.5h1M566 468.5h2M572 468.5h1M579 468.5h1M583 468.5h2M723 468.5h1M731 468.5h1M735 468.5h2M743 468.5h1M747 468.5h2M97 469.5h1M107 469.5h3M118 469.5h3M259 469.5h4M271 469.5h3M416 469.5h3M568 469.5h4M580 469.5h3M723 469.5h1M732 469.5h3M744 469.5h3M440 476.5h1M477 476.5h1M439 477.5h1M478 477.5h1M353 478.5h1M375 478.5h1M381 478.5h2M387 478.5h1M411 478.5h1M438 478.5h1M451 478.5h1M479 478.5h1M353 479.5h1M375 479.5h1M382 479.5h1M387 479.5h1M411 479.5h1M438 479.5h1M451 479.5h1M479 479.5h1M353 480.5h1M375 480.5h1M387 480.5h1M411 480.5h1M437 480.5h1M451 480.5h1M480 480.5h1M353 481.5h1M375 481.5h1M387 481.5h1M411 481.5h1M436 481.5h1M451 481.5h1M480 481.5h1M353 482.5h1M366 482.5h3M370 482.5h1M373 482.5h5M382 482.5h1M385 482.5h5M393 482.5h1M400 482.5h1M407 482.5h3M411 482.5h1M418 482.5h3M436 482.5h1M446 482.5h3M451 482.5h1M458 482.5h3M468 482.5h3M472 482.5h1M480 482.5h1M353 483.5h1M365 483.5h1M369 483.5h2M375 483.5h1M382 483.5h1M387 483.5h1M393 483.5h1M400 483.5h1M406 483.5h1M410 483.5h2M417 483.5h1M421 483.5h1M436 483.5h1M445 483.5h1M449 483.5h3M457 483.5h1M461 483.5h1M467 483.5h1M471 483.5h2M481 483.5h1M353 484.5h1M363 484.5h2M370 484.5h1M375 484.5h1M382 484.5h1M387 484.5h1M393 484.5h1M400 484.5h1M405 484.5h1M411 484.5h1M416 484.5h1M422 484.5h1M436 484.5h1M444 484.5h1M451 484.5h1M455 484.5h2M461 484.5h1M466 484.5h1M472 484.5h1M481 484.5h1M353 485.5h1M363 485.5h1M370 485.5h1M375 485.5h1M382 485.5h1M387 485.5h1M393 485.5h1M400 485.5h1M404 485.5h1M411 485.5h1M415 485.5h1M422 485.5h1M436 485.5h1M444 485.5h1M451 485.5h1M455 485.5h1M462 485.5h1M465 485.5h1M472 485.5h1M481 485.5h1M353 486.5h1M363 486.5h1M370 486.5h1M375 486.5h1M382 486.5h1M387 486.5h1M393 486.5h1M400 486.5h1M404 486.5h1M411 486.5h1M415 486.5h8M436 486.5h1M444 486.5h1M451 486.5h1M455 486.5h8M465 486.5h1M472 486.5h1M481 486.5h1M353 487.5h1M363 487.5h1M370 487.5h1M375 487.5h1M382 487.5h1M387 487.5h1M393 487.5h1M400 487.5h1M404 487.5h1M411 487.5h1M415 487.5h1M436 487.5h1M444 487.5h1M451 487.5h1M455 487.5h1M465 487.5h1M472 487.5h1M481 487.5h1M353 488.5h1M363 488.5h1M370 488.5h1M375 488.5h1M382 488.5h1M387 488.5h1M393 488.5h1M400 488.5h1M405 488.5h1M411 488.5h1M416 488.5h1M436 488.5h1M444 488.5h1M451 488.5h1M455 488.5h1M466 488.5h1M472 488.5h1M481 488.5h1M353 489.5h1M363 489.5h1M370 489.5h1M376 489.5h1M382 489.5h1M388 489.5h1M394 489.5h1M399 489.5h2M405 489.5h1M411 489.5h1M416 489.5h1M422 489.5h1M436 489.5h1M444 489.5h1M450 489.5h2M455 489.5h1M462 489.5h1M466 489.5h1M472 489.5h1M480 489.5h1M353 490.5h1M364 490.5h2M368 490.5h3M376 490.5h1M382 490.5h1M388 490.5h1M394 490.5h1M398 490.5h1M400 490.5h1M406 490.5h1M410 490.5h2M417 490.5h1M421 490.5h1M436 490.5h1M445 490.5h1M449 490.5h1M451 490.5h1M456 490.5h2M460 490.5h2M467 490.5h1M471 490.5h2M480 490.5h1M353 491.5h8M366 491.5h2M370 491.5h1M377 491.5h2M382 491.5h1M389 491.5h2M395 491.5h3M400 491.5h1M407 491.5h3M411 491.5h1M418 491.5h3M437 491.5h1M446 491.5h3M451 491.5h1M458 491.5h2M468 491.5h3M472 491.5h1M479 491.5h1M438 492.5h1M472 492.5h1M479 492.5h1M439 493.5h1M472 493.5h1M478 493.5h1M439 494.5h1M472 494.5h1M478 494.5h1M440 495.5h1M467 495.5h1M471 495.5h1M477 495.5h1M440 496.5h1M468 496.5h3M477 496.5h1"/>
</svg>
</body></html>
